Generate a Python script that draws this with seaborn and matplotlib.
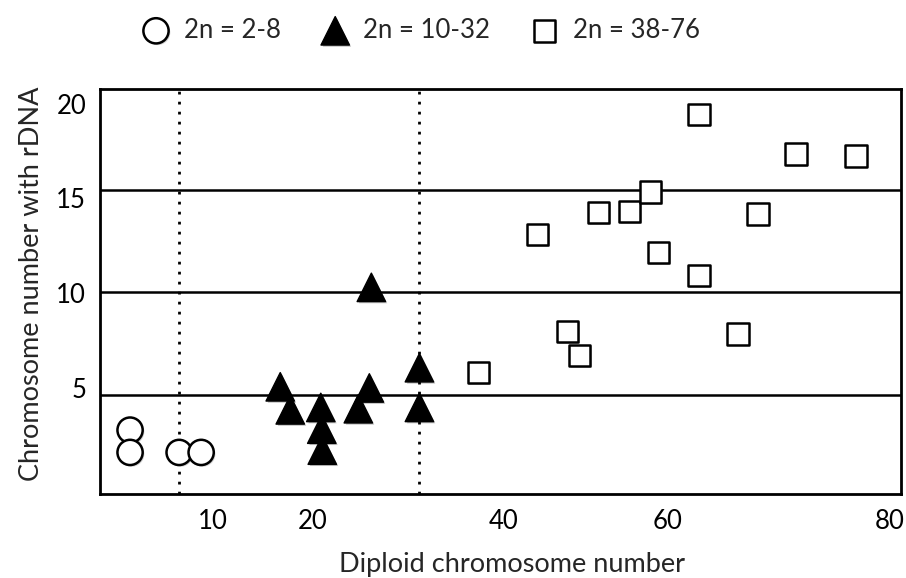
import matplotlib
matplotlib.use("Agg")
import matplotlib.pyplot as plt
import matplotlib.patheffects as pe
import seaborn as sns
import pandas as pd

########## Data ##########

# 2n = 2-8
circle_x = [3.0, 3.0, 7.9, 10.1]
circle_y = [2.75, 1.57, 1.57, 1.57]
# 2n = 10-32
tri_x = [18.0, 19.0, 22.05, 22.15, 22.2, 25.8, 26.9, 27.1, 31.9, 31.9]
tri_y = [5.04, 3.82, 3.95, 2.80, 1.69, 3.88, 4.98, 10.30, 6.05, 3.95]
# 2n = 38-76
sq_x = [37.8, 43.7, 46.7, 47.9, 49.8, 52.9, 55.0, 55.8, 59.8, 59.8, 63.7, 65.7, 69.5, 75.5]
sq_y = [5.80, 13.1, 7.97, 6.70, 14.25, 14.3, 15.33, 12.15, 19.43, 10.92, 7.83, 14.18, 17.34, 17.26]

group_labels = ["2n = 2-8", "2n = 10-32", "2n = 38-76"]

h_lines = [4.63, 10.08, 15.45]     # solid reference lines
v_lines = [7.9, 31.9]              # dotted group boundaries

x_tick_pos = [11.3, 21.2, 40.3, 56.7, 78.9]
x_tick_labels = ["10", "20", "40", "60", "80"]
y_ticks = [5, 10, 15, 20]

########## Frames ##########

circles = pd.DataFrame({"x": circle_x, "y": circle_y})
triangles = pd.DataFrame({"x": tri_x, "y": tri_y})
squares = pd.DataFrame({"x": sq_x, "y": sq_y})

########## Plot ##########

sns.set_style("white")
plt.rcParams["font.family"] = ["Lato", "DejaVu Sans"]

fig = plt.figure(figsize=(9.06, 5.78), dpi=100)
ax = fig.add_axes([0.1104, 0.1453, 0.8841, 0.7007])

for y in h_lines:
    ax.axhline(y, color="black", lw=1.8, zorder=1)
for x in v_lines:
    ax.axvline(x, color="black", lw=2, linestyle=(0, (1, 2.6)), zorder=1)

shadow = [pe.SimplePatchShadow(offset=(1.2, -1.2), alpha=0.25), pe.Normal()]

sns.scatterplot(data=circles, x="x", y="y", marker="o", s=330, color="white",
                edgecolor="black", linewidth=1.8, label=group_labels[0], ax=ax, zorder=3)
sns.scatterplot(data=triangles, x="x", y="y", marker="^", s=420, color="black",
                edgecolor="black", linewidth=1, label=group_labels[1], ax=ax, zorder=3)
sns.scatterplot(data=squares, x="x", y="y", marker="s", s=240, color="white",
                edgecolor="black", linewidth=1.8, label=group_labels[2], ax=ax, zorder=3)
for coll in ax.collections:
    coll.set_path_effects(shadow)

ax.set_xlim(0, 80)
ax.set_ylim(-0.63, 20.79)
ax.set_xticks(x_tick_pos)
ax.set_xticklabels(x_tick_labels)
ax.set_yticks(y_ticks)
ax.tick_params(axis="both", length=0, labelsize=18.5, colors="black")
ax.tick_params(axis="x", pad=11)
ax.tick_params(axis="y", pad=10)

for side in ax.spines.values():
    side.set_color("black")
    side.set_linewidth(2)

ax.set_xlabel("Diploid chromosome number", fontsize=19.5, labelpad=13)
ax.set_ylabel("Chromosome number with rDNA", fontsize=19.5, labelpad=9)
ax.xaxis.label.set_x(0.514)
ax.yaxis.label.set_y(0.52)

handles, labels = ax.get_legend_handles_labels()
ax.legend_.remove()
fig.legend(handles=handles, labels=labels, loc="center", bbox_to_anchor=(0.458, 0.948),
           ncol=3, frameon=False, fontsize=18.5, handletextpad=0.1, columnspacing=1.1,
           borderaxespad=0)

fig.savefig("out.png", dpi=100)
